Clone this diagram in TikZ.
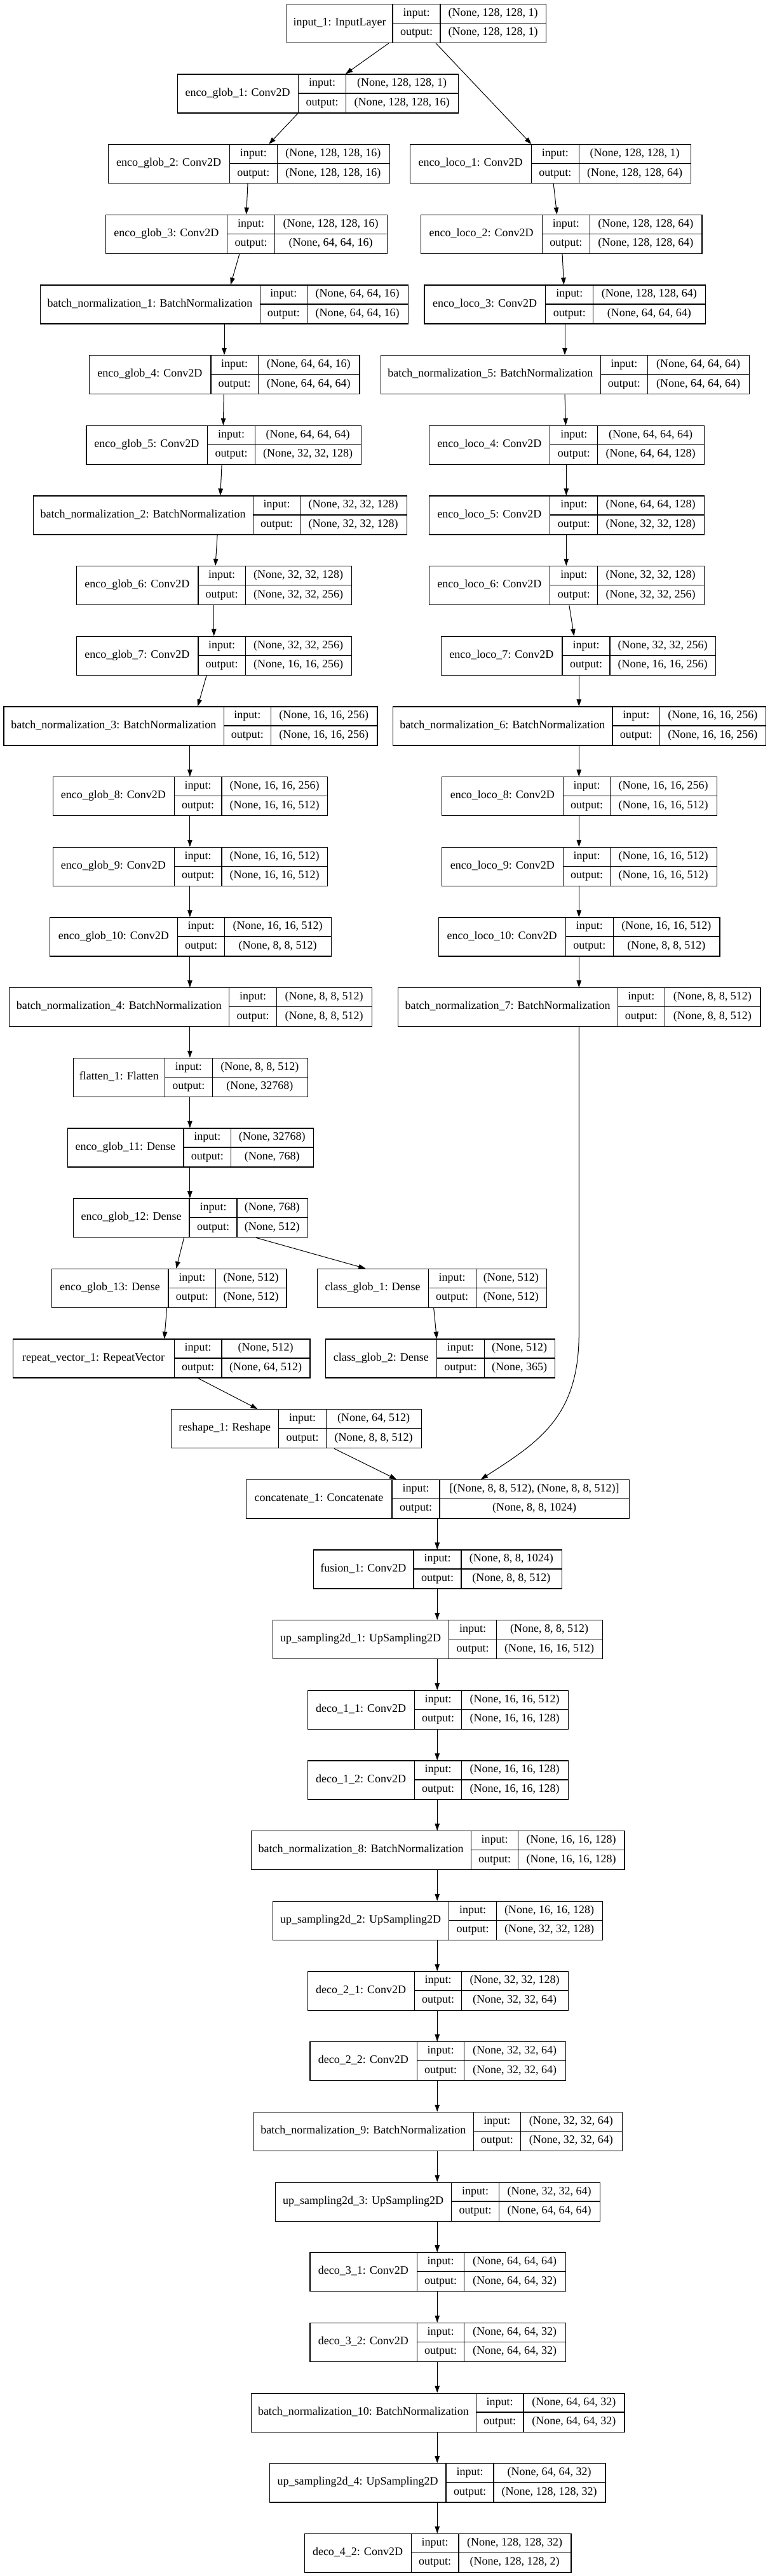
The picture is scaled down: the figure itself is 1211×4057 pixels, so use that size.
\documentclass[tikz,border=0pt]{standalone}
\usepackage{fontspec}
\setmainfont{Liberation Serif}
\usetikzlibrary{arrows.meta}
\tikzset{
  box/.style={draw, line width=1.3pt, inner sep=0pt, anchor=north west, minimum height=61pt},
  cellline/.style={line width=1.3pt},
  txt/.style={font=\fontsize{18}{20}\selectfont, inner sep=0pt, text height=12.5pt, text depth=4pt},
  arr/.style={line width=1pt, -{Triangle[length=11pt,width=7.5pt]}},
}
\newcommand\klayer[9]{%
  \pgfmathsetmacro\ktop{5.7+110.67*#2}%
  \pgfmathsetmacro\kmid{\ktop+30.5}%
  \pgfmathsetmacro\kbot{\ktop+61}%
  \pgfmathsetmacro\kup{\ktop+15.25}%
  \pgfmathsetmacro\klo{\ktop+45.75}%
  \pgfmathsetmacro\kw{#6-#3}%
  \node[box, minimum width=\kw pt] (#1) at (#3,\ktop) {};
  \draw[cellline] (#4,\ktop) -- (#4,\kbot) (#5,\ktop) -- (#5,\kbot) (#4,\kmid) -- (#6,\kmid);
  \node[txt] (#1-n) at ({(#3+#4)/2},\kmid) {#7};
  \node[txt] (#1-il) at ({(#4+#5)/2},\kup) {input:};
  \node[txt] (#1-ol) at ({(#4+#5)/2},\klo) {output:};
  \node[txt] (#1-iv) at ({(#5+#6)/2},\kup) {#8};
  \node[txt] (#1-ov) at ({(#5+#6)/2},\klo) {#9};
}
\newcommand\kedge[4]{\draw[arr] (#1.south -| #2,0) -- (#3.north -| #4,0);}
\begin{document}
\begin{tikzpicture}[x=1pt,y=-1pt]
\fill[white] (0,0) rectangle (1211,4057);
\useasboundingbox (0,0) rectangle (1211,4057);
% left / encoder global
\klayer{in}{0}{451}{618}{693}{859}{input\_1: InputLayer}{(None, 128, 128, 1)}{(None, 128, 128, 1)}
\klayer{g1}{1}{278.8}{469.6}{544.5}{720.6}{enco\_glob\_1: Conv2D}{(None, 128, 128, 1)}{(None, 128, 128, 16)}
\klayer{g2}{2}{169.9}{361.4}{436.4}{612.5}{enco\_glob\_2: Conv2D}{(None, 128, 128, 16)}{(None, 128, 128, 16)}
\klayer{g3}{3}{166.0}{357.6}{432.5}{608.6}{enco\_glob\_3: Conv2D}{(None, 128, 128, 16)}{(None, 64, 64, 16)}
\klayer{bn1}{4}{62.6}{409.3}{483.5}{641.8}{batch\_normalization\_1: BatchNormalization}{(None, 64, 64, 16)}{(None, 64, 64, 16)}
\klayer{g4}{5}{139.8}{332.1}{406.2}{565.3}{enco\_glob\_4: Conv2D}{(None, 64, 64, 16)}{(None, 64, 64, 64)}
\klayer{g5}{6}{135.2}{326.7}{401.6}{567.7}{enco\_glob\_5: Conv2D}{(None, 64, 64, 64)}{(None, 32, 32, 128)}
\klayer{bn2}{7}{51.7}{398.5}{472.7}{639.5}{batch\_normalization\_2: BatchNormalization}{(None, 32, 32, 128)}{(None, 32, 32, 128)}
\klayer{g6}{8}{119.7}{312.0}{386.2}{553.0}{enco\_glob\_6: Conv2D}{(None, 32, 32, 128)}{(None, 32, 32, 256)}
\klayer{g7}{9}{119.7}{312.0}{386.2}{553.0}{enco\_glob\_7: Conv2D}{(None, 32, 32, 256)}{(None, 16, 16, 256)}
\klayer{bn3}{10}{5.4}{352.2}{426.3}{593.2}{batch\_normalization\_3: BatchNormalization}{(None, 16, 16, 256)}{(None, 16, 16, 256)}
\klayer{g8}{11}{82.6}{274.2}{349.1}{515.1}{enco\_glob\_8: Conv2D}{(None, 16, 16, 256)}{(None, 16, 16, 512)}
\klayer{g9}{12}{82.6}{274.2}{349.1}{515.1}{enco\_glob\_9: Conv2D}{(None, 16, 16, 512)}{(None, 16, 16, 512)}
\klayer{g10}{13}{78.0}{279.6}{353.7}{520.5}{enco\_glob\_10: Conv2D}{(None, 16, 16, 512)}{(None, 8, 8, 512)}
\klayer{bn4}{14}{13.9}{360.7}{435.6}{584.6}{batch\_normalization\_4: BatchNormalization}{(None, 8, 8, 512)}{(None, 8, 8, 512)}
\klayer{fl}{15}{115.1}{259.5}{334.4}{483.5}{flatten\_1: Flatten}{(None, 8, 8, 512)}{(None, 32768)}
\klayer{g11}{16}{105.8}{288.9}{363.8}{492.7}{enco\_glob\_11: Dense}{(None, 32768)}{(None, 768)}
\klayer{g12}{17}{115.1}{298.1}{373.0}{483.5}{enco\_glob\_12: Dense}{(None, 768)}{(None, 512)}
\klayer{g13}{18}{81.1}{264.9}{339.8}{450.3}{enco\_glob\_13: Dense}{(None, 512)}{(None, 512)}
\klayer{c1}{18}{498.9}{674.2}{749.2}{859.6}{class\_glob\_1: Dense}{(None, 512)}{(None, 512)}
\klayer{rv}{19}{20.1}{274.2}{349.1}{487.3}{repeat\_vector\_1: RepeatVector}{(None, 512)}{(None, 64, 512)}
\klayer{c2}{19}{512.1}{687.4}{762.3}{872.7}{class\_glob\_2: Dense}{(None, 512)}{(None, 365)}
\klayer{rs}{20}{268.8}{438.7}{513.6}{662.7}{reshape\_1: Reshape}{(None, 64, 512)}{(None, 8, 8, 512)}
% right / encoder local
\klayer{l1}{2}{644.9}{836.4}{911.3}{1086.7}{enco\_loco\_1: Conv2D}{(None, 128, 128, 1)}{(None, 128, 128, 64)}
\klayer{l2}{3}{661.9}{853.4}{928.3}{1104.4}{enco\_loco\_2: Conv2D}{(None, 128, 128, 64)}{(None, 128, 128, 64)}
\klayer{l3}{4}{667.3}{858.8}{933.7}{1109.8}{enco\_loco\_3: Conv2D}{(None, 128, 128, 64)}{(None, 64, 64, 64)}
\klayer{bn5}{5}{598.5}{945.3}{1019.5}{1178.6}{batch\_normalization\_5: BatchNormalization}{(None, 64, 64, 64)}{(None, 64, 64, 64)}
\klayer{l4}{6}{675.0}{865.8}{940.7}{1107.5}{enco\_loco\_4: Conv2D}{(None, 64, 64, 64)}{(None, 64, 64, 128)}
\klayer{l5}{7}{675.0}{865.8}{940.7}{1107.5}{enco\_loco\_5: Conv2D}{(None, 64, 64, 128)}{(None, 32, 32, 128)}
\klayer{l6}{8}{675.0}{865.8}{940.7}{1107.5}{enco\_loco\_6: Conv2D}{(None, 32, 32, 128)}{(None, 32, 32, 256)}
\klayer{l7}{9}{693.6}{885.1}{960.0}{1126.1}{enco\_loco\_7: Conv2D}{(None, 32, 32, 256)}{(None, 16, 16, 256)}
\klayer{bn6}{10}{617.9}{963.9}{1038.8}{1204.8}{batch\_normalization\_6: BatchNormalization}{(None, 16, 16, 256)}{(None, 16, 16, 256)}
\klayer{l8}{11}{695.1}{886.6}{960.8}{1127.6}{enco\_loco\_8: Conv2D}{(None, 16, 16, 256)}{(None, 16, 16, 512)}
\klayer{l9}{12}{695.1}{886.6}{960.8}{1127.6}{enco\_loco\_9: Conv2D}{(None, 16, 16, 512)}{(None, 16, 16, 512)}
\klayer{l10}{13}{689.7}{890.5}{965.4}{1132.2}{enco\_loco\_10: Conv2D}{(None, 16, 16, 512)}{(None, 8, 8, 512)}
\klayer{bn7}{14}{625.6}{972.4}{1046.5}{1196.3}{batch\_normalization\_7: BatchNormalization}{(None, 8, 8, 512)}{(None, 8, 8, 512)}
% decoder
\klayer{cc}{21}{386.9}{617.1}{692.0}{990.1}{concatenate\_1: Concatenate}{[(None, 8, 8, 512), (None, 8, 8, 512)]}{(None, 8, 8, 1024)}
\klayer{fu}{22}{492.7}{651.1}{726.0}{883.5}{fusion\_1: Conv2D}{(None, 8, 8, 1024)}{(None, 8, 8, 512)}
\klayer{u1}{23}{428.6}{706.7}{781.6}{947.6}{up\_sampling2d\_1: UpSampling2D}{(None, 8, 8, 512)}{(None, 16, 16, 512)}
\klayer{d11}{24}{483.5}{652.6}{726.8}{893.6}{deco\_1\_1: Conv2D}{(None, 16, 16, 512)}{(None, 16, 16, 128)}
\klayer{d12}{25}{483.5}{652.6}{726.8}{893.6}{deco\_1\_2: Conv2D}{(None, 16, 16, 128)}{(None, 16, 16, 128)}
\klayer{bn8}{26}{394.7}{741.4}{815.6}{982.4}{batch\_normalization\_8: BatchNormalization}{(None, 16, 16, 128)}{(None, 16, 16, 128)}
\klayer{u2}{27}{428.6}{706.7}{781.6}{947.6}{up\_sampling2d\_2: UpSampling2D}{(None, 16, 16, 128)}{(None, 32, 32, 128)}
\klayer{d21}{28}{483.5}{652.6}{726.8}{893.6}{deco\_2\_1: Conv2D}{(None, 32, 32, 128)}{(None, 32, 32, 64)}
\klayer{d22}{29}{487.3}{656.5}{730.6}{889.7}{deco\_2\_2: Conv2D}{(None, 32, 32, 64)}{(None, 32, 32, 64)}
\klayer{bn9}{30}{398.5}{745.3}{819.4}{978.5}{batch\_normalization\_9: BatchNormalization}{(None, 32, 32, 64)}{(None, 32, 32, 64)}
\klayer{u3}{31}{432.5}{710.5}{785.5}{943.8}{up\_sampling2d\_3: UpSampling2D}{(None, 32, 32, 64)}{(None, 64, 64, 64)}
\klayer{d31}{32}{487.3}{656.5}{730.6}{889.7}{deco\_3\_1: Conv2D}{(None, 64, 64, 64)}{(None, 64, 64, 32)}
\klayer{d32}{33}{487.3}{656.5}{730.6}{889.7}{deco\_3\_2: Conv2D}{(None, 64, 64, 32)}{(None, 64, 64, 32)}
\klayer{bn10}{34}{394.7}{749.2}{824.1}{982.4}{batch\_normalization\_10: BatchNormalization}{(None, 64, 64, 32)}{(None, 64, 64, 32)}
\klayer{u4}{35}{424.0}{702.0}{777.0}{952.3}{up\_sampling2d\_4: UpSampling2D}{(None, 64, 64, 32)}{(None, 128, 128, 32)}
\klayer{d42}{36}{478.8}{647.2}{722.1}{898.2}{deco\_4\_2: Conv2D}{(None, 128, 128, 32)}{(None, 128, 128, 2)}
% edges
\kedge{in}{612}{g1}{544}
\kedge{in}{686}{l1}{836.4}
\kedge{g1}{468.8}{g2}{423.2}
\kedge{g2}{390}{g3}{387.7}
\kedge{g3}{376.9}{bn1}{363}
\kedge{bn1}{353}{g4}{353}
\kedge{g4}{352.2}{g5}{351.4}
\kedge{g5}{349.1}{bn2}{346.8}
\kedge{bn2}{342.1}{g6}{339}
\kedge{g6}{336.7}{g7}{336.7}
\kedge{g7}{325.1}{bn3}{311.2}
\kedge{bn3}{298.9}{g8}{298.9}
\kedge{g8}{298.9}{g9}{298.9}
\kedge{g9}{298.9}{g10}{298.9}
\kedge{g10}{298.9}{bn4}{298.9}
\kedge{bn4}{298.9}{fl}{298.9}
\kedge{fl}{298.9}{g11}{298.9}
\kedge{g11}{298.9}{g12}{298.9}
\kedge{g12}{289.6}{g13}{277.3}
\kedge{g12}{403.2}{c1}{575.4}
\kedge{g13}{262.6}{rv}{258.7}
\kedge{c1}{682.7}{c2}{687.4}
\kedge{rv}{312}{rs}{405.5}
\kedge{rs}{526}{cc}{624}
\kedge{l1}{871.2}{l2}{876.6}
\kedge{l2}{885.1}{l3}{887.4}
\kedge{l3}{889}{bn5}{889}
\kedge{bn5}{889}{l4}{890.5}
\kedge{l4}{891.3}{l5}{891.3}
\kedge{l5}{891.3}{l6}{891.3}
\kedge{l6}{895.9}{l7}{903.6}
\kedge{l7}{911.3}{bn6}{911.3}
\kedge{bn6}{911.3}{l8}{911.3}
\kedge{l8}{911.3}{l9}{911.3}
\kedge{l9}{911.3}{l10}{911.3}
\kedge{l10}{911.3}{bn7}{911.3}
\coordinate (bend) at (911.3,2100);
\draw[arr] (bn7.south -| 911.3,0) -- (bend) .. controls (911.3,2230) and (850,2270) .. (cc.north -| 756.9,0);
\kedge{cc}{688.2}{fu}{688.2}
\kedge{fu}{688.2}{u1}{688.2}
\kedge{u1}{688.2}{d11}{688.2}
\kedge{d11}{688.2}{d12}{688.2}
\kedge{d12}{688.2}{bn8}{688.2}
\kedge{bn8}{688.2}{u2}{688.2}
\kedge{u2}{688.2}{d21}{688.2}
\kedge{d21}{688.2}{d22}{688.2}
\kedge{d22}{688.2}{bn9}{688.2}
\kedge{bn9}{688.2}{u3}{688.2}
\kedge{u3}{688.2}{d31}{688.2}
\kedge{d31}{688.2}{d32}{688.2}
\kedge{d32}{688.2}{bn10}{688.2}
\kedge{bn10}{688.2}{u4}{688.2}
\kedge{u4}{688.2}{d42}{688.2}
\end{tikzpicture}
\end{document}
